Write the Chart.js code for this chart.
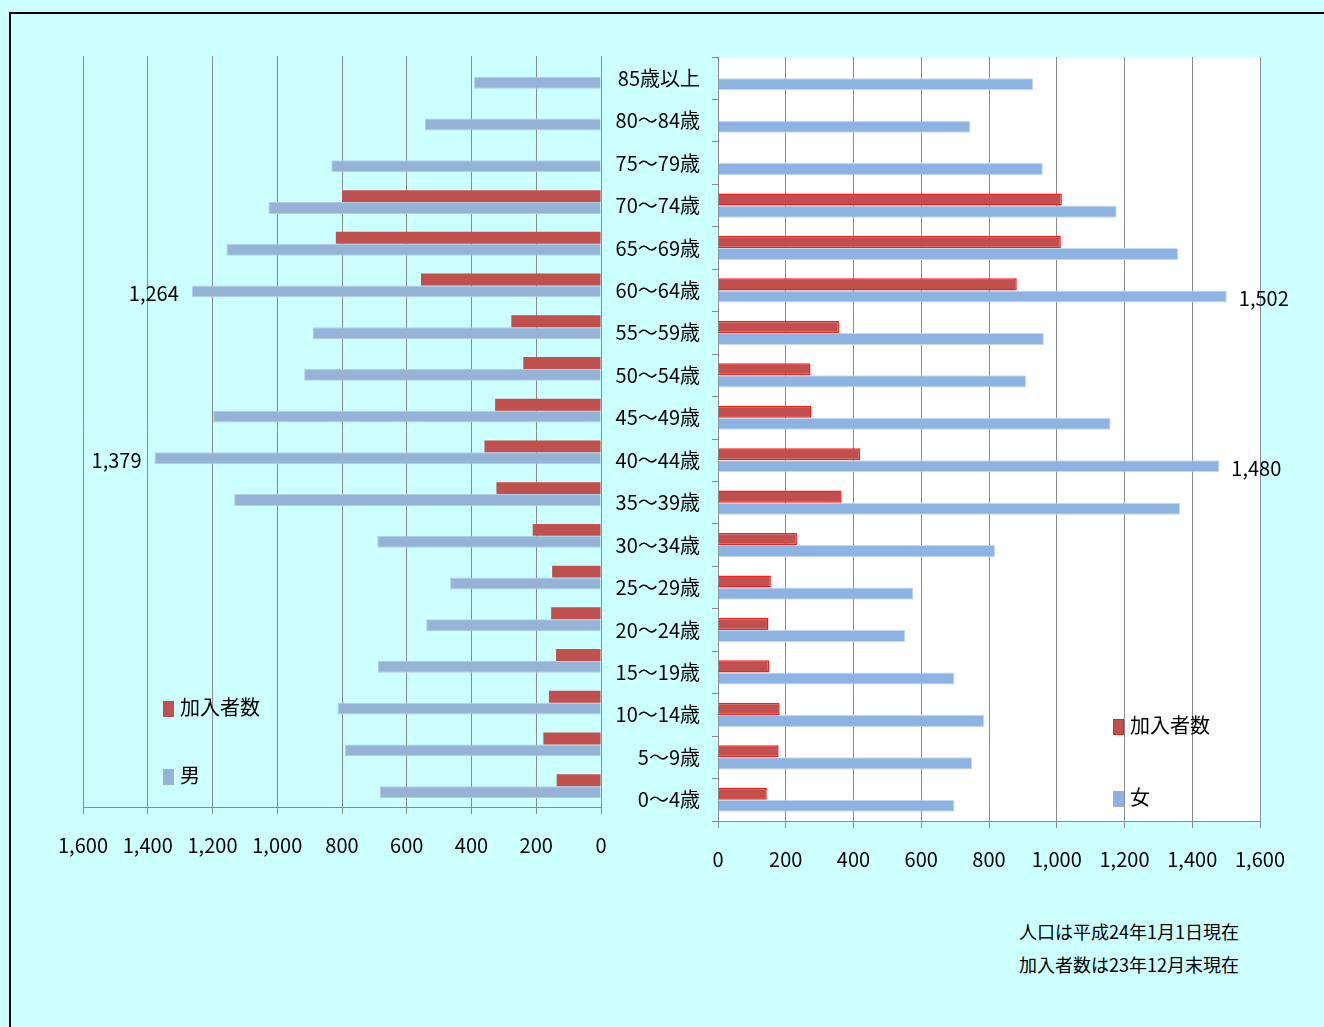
<!DOCTYPE html>
<html lang="ja">
<head>
<meta charset="utf-8">
<title>年齢別人口と加入者数</title>
<script src="https://cdn.jsdelivr.net/npm/chart.js@4.4.1/dist/chart.umd.min.js"></script>
<style>
  html, body { margin: 0; padding: 0; background: #ccffff; width: 1324px; height: 1027px; overflow: hidden;
    font-family: 'Noto Sans CJK JP', 'Noto Sans', sans-serif; }
  #frame { position: absolute; left: 9px; top: 12px; width: 1400px; height: 1100px;
    border-left: 2px solid #000; border-top: 2px solid #000; }
  canvas { position: absolute; top: 0; }
  #maleChart { left: 0; }
  #femaleChart { left: 600px; }
  .legend { position: absolute; font-size: 20px; color: #000; }
  .legend .item { position: absolute; left: 0; white-space: nowrap; height: 24px; line-height: 24px; }
  .legend .sw { display: inline-block; width: 11px; height: 16px; vertical-align: middle;
    margin-right: 6px; box-sizing: border-box; position: relative; top: -1px; }
  #note { position: absolute; left: 1019px; top: 915px; font-size: 18px; line-height: 33px; color: #000; }
</style>
</head>
<body>
<div id="frame"></div>
<canvas id="maleChart" width="660" height="900"></canvas>
<canvas id="femaleChart" width="724" height="900"></canvas>
<div class="legend" id="maleLegend" style="left:163px; top:695px;"></div>
<div class="legend" id="femaleLegend" style="left:1113px; top:713px;"></div>
<div id="note">人口は平成24年1月1日現在<br>加入者数は23年12月末現在</div>

<script>
// 年齢階級（上から高齢順）
const ageGroups = [
  '85歳以上', '80～84歳', '75～79歳', '70～74歳', '65～69歳', '60～64歳',
  '55～59歳', '50～54歳', '45～49歳', '40～44歳', '35～39歳', '30～34歳',
  '25～29歳', '20～24歳', '15～19歳', '10～14歳', '5～9歳', '0～4歳'
];

// 男：人口と加入者数
const maleTotal   = [392, 544, 833, 1027, 1157, 1264, 891, 917, 1198, 1379, 1133, 691, 466, 540, 689, 814, 791, 683];
const maleMembers = [null, null, null, 800, 819, 556, 277, 240, 327, 360, 323, 211, 151, 154, 139, 161, 178, 137];

// 女：人口と加入者数
const femaleTotal   = [930, 745, 959, 1177, 1359, 1502, 962, 910, 1159, 1480, 1364, 818, 577, 553, 698, 786, 750, 698];
const femaleMembers = [null, null, null, 1015, 1012, 882, 357, 273, 276, 420, 365, 233, 156, 149, 151, 182, 179, 144];

// 数値ラベルを付ける年齢階級（60～64歳、40～44歳）
const labelledGroups = ['60～64歳', '40～44歳'];

// 横軸の範囲と目盛
const axisMin = 0;
const axisMax = 1600;
const axisStep = 200;

const FONT = "'Noto Sans CJK JP', 'Noto Sans', sans-serif";
const GRID = '#8a8a8a';
const fmt = v => Number(v).toLocaleString('en-US');

// 指定した棒の先に数値を書く
const valueLabels = {
  id: 'valueLabels',
  afterDatasetsDraw(chart, args, opts) {
    const ds = chart.data.datasets[opts.datasetIndex];
    const meta = chart.getDatasetMeta(opts.datasetIndex);
    const ctx = chart.ctx;
    ctx.save();
    ctx.font = '20px ' + FONT;
    ctx.fillStyle = '#000';
    ctx.textBaseline = 'middle';
    labelledGroups.forEach(name => {
      const i = chart.data.labels.indexOf(name);
      const bar = meta.data[i];
      if (!bar) return;
      const txt = fmt(ds.data[i]);
      if (opts.side === 'left') {
        ctx.textAlign = 'right';
        ctx.fillText(txt, bar.x - 13, bar.y + 2);
      } else {
        ctx.textAlign = 'left';
        ctx.fillText(txt, bar.x + 12, bar.y + 2);
      }
    });
    ctx.restore();
  }
};

// プロットエリアの塗りつぶし
const plotFill = {
  id: 'plotFill',
  beforeDraw(chart, args, opts) {
    if (!opts.color) return;
    const { ctx, chartArea: a } = chart;
    ctx.save();
    ctx.fillStyle = opts.color;
    ctx.fillRect(a.left, a.top, a.right - a.left, a.bottom - a.top);
    ctx.restore();
  }
};

function valueAxis(reverse) {
  return {
    type: 'linear',
    reverse: reverse,
    min: axisMin,
    max: axisMax,
    ticks: {
      stepSize: axisStep,
      callback: v => fmt(v),
      color: '#000',
      font: { family: FONT, size: 20 },
      padding: 19,
      maxRotation: 0,
      autoSkip: false
    },
    grid: { color: GRID, lineWidth: 1, tickLength: 7, drawTicks: true },
    border: { display: true, color: GRID, width: 1 },
    afterFit(s) { s.height = 60; }
  };
}

const barGeom = { categoryPercentage: 0.57, barPercentage: 1.0 };

// 男（左側、軸を反転）
const maleChart = new Chart(document.getElementById('maleChart'), {
  type: 'bar',
  data: {
    labels: ageGroups,
    datasets: [
      Object.assign({ label: '加入者数', data: maleMembers, backgroundColor: '#c0504d', borderWidth: 0 }, barGeom),
      Object.assign({ label: '男', data: maleTotal, backgroundColor: '#95b3d7', borderColor: '#b4cbe6', borderWidth: 1 }, barGeom)
    ]
  },
  options: {
    indexAxis: 'y',
    responsive: false,
    animation: false,
    layout: { padding: { left: 83, right: 59, top: 56, bottom: 33 } },
    scales: {
      x: valueAxis(true),
      y: { display: false }
    },
    plugins: {
      legend: { display: false },
      tooltip: { enabled: false },
      valueLabels: { datasetIndex: 1, side: 'left' }
    }
  },
  plugins: [valueLabels]
});

// 女（右側、年齢階級の軸ラベル付き）
const femaleChart = new Chart(document.getElementById('femaleChart'), {
  type: 'bar',
  data: {
    labels: ageGroups,
    datasets: [
      Object.assign({ label: '加入者数', data: femaleMembers, backgroundColor: '#c0504d', borderColor: '#ff1a1a', borderWidth: 1.5 }, barGeom),
      Object.assign({ label: '女', data: femaleTotal, backgroundColor: '#8db3e2', borderColor: '#c6d9f1', borderWidth: 1 }, barGeom)
    ]
  },
  options: {
    indexAxis: 'y',
    responsive: false,
    animation: false,
    layout: { padding: { left: 0, right: 64, top: 57, bottom: 19 } },
    scales: {
      x: valueAxis(false),
      y: {
        ticks: { color: '#000', font: { family: FONT, size: 20 }, padding: 12, autoSkip: false },
        grid: { drawOnChartArea: false, drawTicks: true, tickLength: 6, color: GRID, offset: true },
        border: { display: true, color: GRID },
        afterFit(s) { s.width = 118; }
      }
    },
    plugins: {
      legend: { display: false },
      tooltip: { enabled: false },
      plotFill: { color: '#ffffff' },
      valueLabels: { datasetIndex: 1, side: 'right' }
    }
  },
  plugins: [plotFill, valueLabels]
});

// 凡例（データセットの名前と色から作る）
function buildLegend(chart, el, gap) {
  chart.data.datasets.forEach((ds, i) => {
    const item = document.createElement('div');
    item.className = 'item';
    item.style.top = (i * gap) + 'px';
    const sw = document.createElement('span');
    sw.className = 'sw';
    sw.style.background = ds.backgroundColor;
    if (ds.borderWidth >= 1.5) sw.style.border = '1px solid ' + ds.borderColor;
    item.appendChild(sw);
    item.appendChild(document.createTextNode(ds.label));
    el.appendChild(item);
  });
}
buildLegend(maleChart, document.getElementById('maleLegend'), 68);
buildLegend(femaleChart, document.getElementById('femaleLegend'), 72);
</script>
</body>
</html>
